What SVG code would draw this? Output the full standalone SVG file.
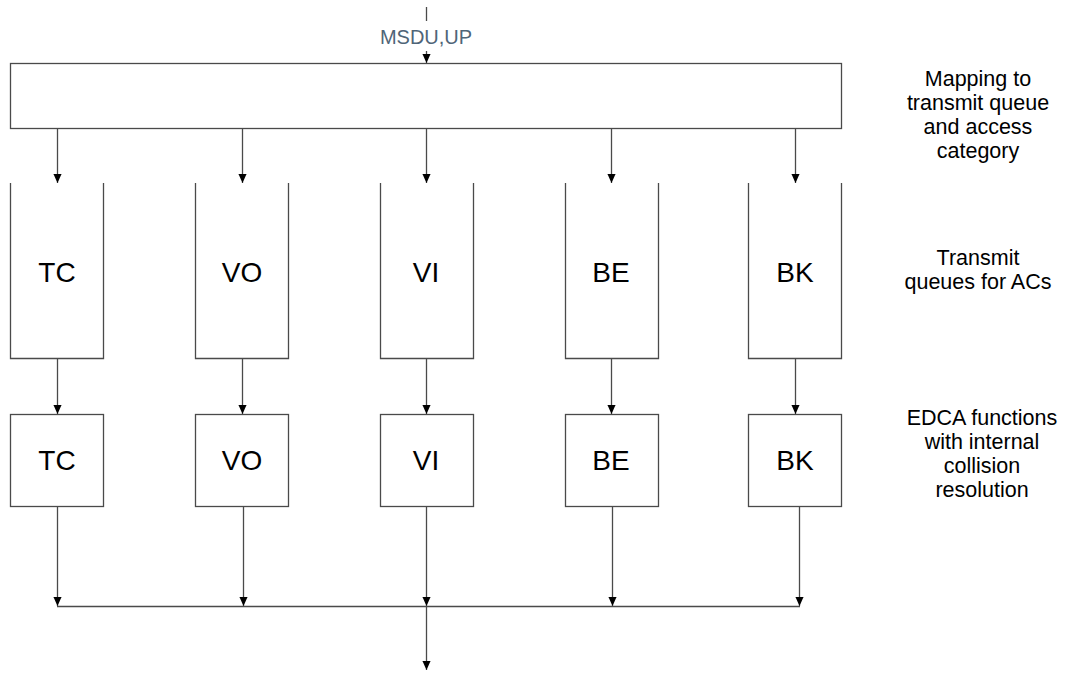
<svg xmlns="http://www.w3.org/2000/svg" width="1066" height="673" viewBox="0 0 1066 673">
<style>
.ln{fill:none;stroke:#4a4a4a;stroke-width:1.3}
.bx{fill:#fff;stroke:#4a4a4a;stroke-width:1.3}
.big{font-family:"Liberation Sans",Arial,sans-serif;font-size:28px;fill:#000;text-anchor:middle}
.side{font-family:"Liberation Sans",Arial,sans-serif;font-size:21.5px;fill:#000;text-anchor:middle}
.lbl{font-family:"Liberation Sans",Arial,sans-serif;font-size:20px;fill:#4f6578;text-anchor:middle}
</style>
<defs>
<marker id="ah" markerUnits="userSpaceOnUse" markerWidth="9" markerHeight="9" refX="10" refY="4.5" orient="auto" viewBox="0 0 10 9">
<path d="M0,0 L10,4.5 L0,9 z" fill="#000"/>
</marker>
</defs>
<g id="mapping">
<rect class="bx" x="10.5" y="63.5" width="831" height="65"/>
</g>
<g id="queues">
<g id="q-tc"><path class="ln" d="M10.5,183 V358.5 H103.5 V183"/><text class="big" x="57" y="282">TC</text></g>
<g id="q-vo"><path class="ln" d="M195.5,183 V358.5 H288.5 V183"/><text class="big" x="242" y="282">VO</text></g>
<g id="q-vi"><path class="ln" d="M380.5,183 V358.5 H473.5 V183"/><text class="big" x="426" y="282">VI</text></g>
<g id="q-be"><path class="ln" d="M565.5,183 V358.5 H658.5 V183"/><text class="big" x="611" y="282">BE</text></g>
<g id="q-bk"><path class="ln" d="M748.5,183 V358.5 H841.5 V183"/><text class="big" x="795" y="282">BK</text></g>
</g>
<g id="edca">
<g id="e-tc"><rect class="bx" x="10.5" y="414.5" width="93" height="92"/><text class="big" x="57" y="470">TC</text></g>
<g id="e-vo"><rect class="bx" x="195.5" y="414.5" width="93" height="92"/><text class="big" x="242" y="470">VO</text></g>
<g id="e-vi"><rect class="bx" x="380.5" y="414.5" width="93" height="92"/><text class="big" x="426" y="470">VI</text></g>
<g id="e-be"><rect class="bx" x="565.5" y="414.5" width="93" height="92"/><text class="big" x="611" y="470">BE</text></g>
<g id="e-bk"><rect class="bx" x="748.5" y="414.5" width="93" height="92"/><text class="big" x="795" y="470">BK</text></g>
</g>
<g id="connectors">
<line class="ln" x1="426.5" y1="7" x2="426.5" y2="21"/>
<line class="ln" x1="426.5" y1="51" x2="426.5" y2="63" marker-end="url(#ah)"/>
<line class="ln" x1="57.5" y1="129" x2="57.5" y2="183" marker-end="url(#ah)"/>
<line class="ln" x1="242.5" y1="129" x2="242.5" y2="183" marker-end="url(#ah)"/>
<line class="ln" x1="426.5" y1="129" x2="426.5" y2="183" marker-end="url(#ah)"/>
<line class="ln" x1="611.5" y1="129" x2="611.5" y2="183" marker-end="url(#ah)"/>
<line class="ln" x1="795.5" y1="129" x2="795.5" y2="183" marker-end="url(#ah)"/>
<line class="ln" x1="57.5" y1="359" x2="57.5" y2="414" marker-end="url(#ah)"/>
<line class="ln" x1="242.5" y1="359" x2="242.5" y2="414" marker-end="url(#ah)"/>
<line class="ln" x1="426.5" y1="359" x2="426.5" y2="414" marker-end="url(#ah)"/>
<line class="ln" x1="611.5" y1="359" x2="611.5" y2="414" marker-end="url(#ah)"/>
<line class="ln" x1="795.5" y1="359" x2="795.5" y2="414" marker-end="url(#ah)"/>
<line class="ln" x1="57.5" y1="507" x2="57.5" y2="606" marker-end="url(#ah)"/>
<line class="ln" x1="243.5" y1="507" x2="243.5" y2="606" marker-end="url(#ah)"/>
<line class="ln" x1="426.5" y1="507" x2="426.5" y2="606" marker-end="url(#ah)"/>
<line class="ln" x1="612.5" y1="507" x2="612.5" y2="606" marker-end="url(#ah)"/>
<line class="ln" x1="799.5" y1="507" x2="799.5" y2="606" marker-end="url(#ah)"/>
<line class="ln" x1="57" y1="606.5" x2="800" y2="606.5"/>
<line class="ln" x1="426.5" y1="607" x2="426.5" y2="670" marker-end="url(#ah)"/>
</g>
<text class="lbl" x="426" y="44">MSDU,UP</text>
<g id="labels">
<text class="side" x="978" y="86">Mapping to</text>
<text class="side" x="978" y="110">transmit queue</text>
<text class="side" x="978" y="134">and access</text>
<text class="side" x="978" y="158">category</text>
<text class="side" x="978" y="265">Transmit</text>
<text class="side" x="978" y="289">queues for ACs</text>
<text class="side" x="982" y="425">EDCA functions</text>
<text class="side" x="982" y="449">with internal</text>
<text class="side" x="982" y="473">collision</text>
<text class="side" x="982" y="497">resolution</text>
</g>
</svg>
